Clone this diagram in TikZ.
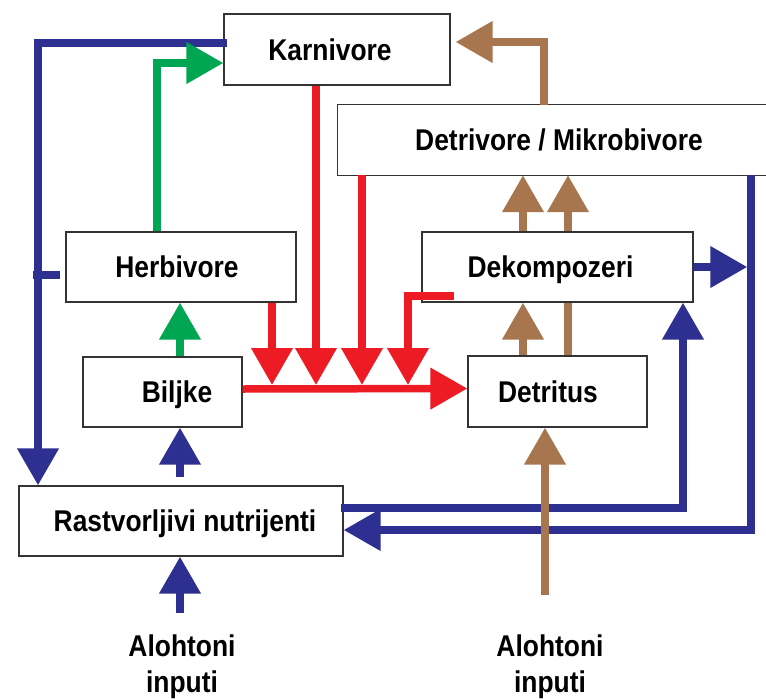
\documentclass[tikz,border=0pt]{standalone}
\usepackage{fontspec}
\setmainfont{Liberation Sans}[FakeStretch=0.88]
\usetikzlibrary{arrows.meta}
\definecolor{cblue}{RGB}{45,48,145}
\definecolor{cred}{RGB}{237,28,36}
\definecolor{cgreen}{RGB}{0,166,81}
\definecolor{cbrown}{RGB}{168,118,78}
\begin{document}
\begin{tikzpicture}[x=1pt,y=-1pt,
  box/.style={draw=black!80, line width=1.3pt, fill=white, rectangle, inner sep=0pt},
  lbl/.style={font={\bfseries\fontsize{30}{36}\selectfont}, text height=21.5pt, text depth=0pt, inner sep=0pt},
  flow/.style={line width=7.5pt, -{Triangle[length=37pt,width=40pt]}},
  plain/.style={line width=7.5pt},
]
\useasboundingbox (0,0) rectangle (766,699);
% boxes
\node[box, minimum width=226pt, minimum height=71pt, label={[lbl,xshift=-7pt]center:Karnivore}] (karn) at (337,49.5) {};
\node[minimum width=428pt, minimum height=70pt, inner sep=0pt, label={[lbl,xshift=7pt]center:Detrivore / Mikrobivore}] (detr) at (552,140) {};
\draw[draw=black!80, line width=1.3pt] (detr.north east) -| (detr.south west) -- (detr.south east);
\node[box, minimum width=230pt, minimum height=70pt, label={[lbl,xshift=-4pt]center:Herbivore}] (herb) at (181,267) {};
\node[box, minimum width=271pt, minimum height=70pt, label={[lbl,xshift=-7pt]center:Dekompozeri}] (dek) at (557.5,267) {};
\node[box, minimum width=159pt, minimum height=70pt, label={[lbl,xshift=14.5pt]center:Biljke}] (bil) at (162.5,392) {};
\node[box, minimum width=179pt, minimum height=71pt, label={[lbl,xshift=-9.5pt]center:Detritus}] (det) at (557.5,391.5) {};
\node[box, minimum width=324pt, minimum height=70pt, label={[lbl,xshift=4pt]center:Rastvorljivi nutrijenti}] (rast) at (181,521) {};
% bottom labels
\node[lbl] (aloL) at (182,646) {Alohtoni};
\node[lbl] (inpL) at (182,682) {inputi};
\node[lbl] (aloR) at (550,646) {Alohtoni};
\node[lbl] (inpR) at (550,682) {inputi};
% helper coordinates
\coordinate (rl) at (0,385);
\coordinate (vr) at (751,0);
% blue
\draw[flow,cblue] ([xshift=4pt,yshift=6.5pt]karn.west) -| (38,0 |- rast.north);
\draw[plain,cblue] ([xshift=-5pt,yshift=-8pt]herb.west) -- +(-27,0);
\draw[flow,cblue,shorten <=8pt] (180,0 |- rast.north) -- (180,0 |- bil.south);
\draw[flow,cblue,shorten <=22pt] (180,0 |- aloL.north) -- (180,0 |- rast.south);
\draw[flow,cblue] (dek.east) -- ([xshift=-3.75pt]vr |- dek.east);
\draw[flow,cblue] (vr |- detr.south) |- ([yshift=-9pt]rast.east);
\draw[flow,cblue] ([xshift=-3pt,yshift=13pt]rast.east) -| (683,0 |- dek.south);
% green
\draw[flow,cgreen] (157,0 |- herb.north) |- ([yshift=-13.5pt]karn.west);
\draw[flow,cgreen] (180,0 |- bil.north) -- (180,0 |- herb.south);
% red
\draw[flow,cred] (272,0 |- herb.south) -- (272,0 |- rl);
\draw[flow,cred] (316,0 |- karn.south) -- (316,0 |- rl);
\draw[flow,cred] (362,0 |- detr.south) -- (362,0 |- rl);
\draw[flow,cred] ([xshift=33pt,yshift=-29pt]dek.west) -| (408,0 |- rl);
\draw[flow,cred] ([yshift=3pt]bil.east) -- ([yshift=3pt]det.west);
% brown
\draw[flow,cbrown] (523,0 |- det.north) -- (523,0 |- dek.south);
\draw[plain,cbrown] (568,0 |- det.north) -- (568,0 |- dek.south);
\draw[flow,cbrown] (523,0 |- dek.north) -- (523,0 |- detr.south);
\draw[flow,cbrown] (568,0 |- dek.north) -- (568,0 |- detr.south);
\draw[flow,cbrown] (544,0 |- detr.north) |- ([xshift=5pt,yshift=7.5pt]karn.east);
\draw[flow,cbrown,shorten <=40pt] (545,0 |- aloR.north) -- (545,0 |- det.south);
\end{tikzpicture}
\end{document}
